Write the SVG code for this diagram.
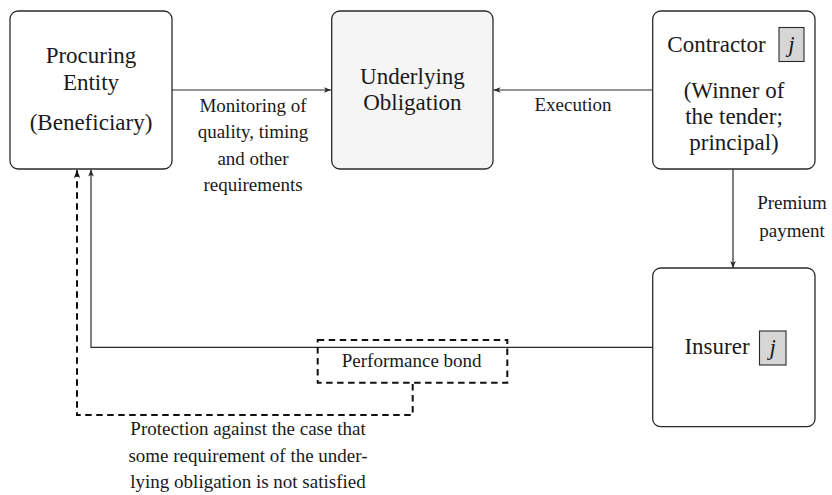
<svg xmlns="http://www.w3.org/2000/svg" width="832" height="495" viewBox="0 0 832 495">
  <style>
    .node { fill: #ffffff; stroke: #2a2a2a; stroke-width: 1.3; }
    .node.shaded { fill: #f5f5f5; }
    .tag { fill: #d6d6d6; stroke: #2a2a2a; stroke-width: 1.1; }
    .lbl { font-family: 'Liberation Serif', serif; fill: #1a1a1a; text-anchor: middle; }
    .big { font-size: 23px; }
    .small { font-size: 19px; }
    .edge { fill: none; stroke: #2a2a2a; stroke-width: 1.2; }
    .dash { fill: none; stroke: #111111; stroke-width: 2; stroke-dasharray: 6.5 4.5; }
  </style>
  <defs>
    <marker id="arrow" viewBox="0 0 10 8" refX="10" refY="4" markerWidth="7" markerHeight="6" markerUnits="userSpaceOnUse" orient="auto">
      <path d="M0,0 L10,4 L0,8 L2.5,4 Z" fill="#2a2a2a"/>
    </marker>
    <marker id="arrowBold" viewBox="0 0 10 8" refX="10" refY="4" markerWidth="8" markerHeight="7" markerUnits="userSpaceOnUse" orient="auto">
      <path d="M0,0 L10,4 L0,8 L2.5,4 Z" fill="#111111"/>
    </marker>
  </defs>

  <!-- procuring entity -->
  <g id="procuring-entity">
    <rect class="node" x="10" y="11" width="162" height="158" rx="8" ry="8"/>
    <text class="lbl big" x="91" y="63">Procuring</text>
    <text class="lbl big" x="91" y="90">Entity</text>
    <text class="lbl big" x="91" y="130">(Beneficiary)</text>
  </g>

  <!-- underlying obligation -->
  <g id="underlying-obligation">
    <rect class="node shaded" x="331.7" y="11" width="161.3" height="158" rx="8" ry="8"/>
    <text class="lbl big" x="412.4" y="84">Underlying</text>
    <text class="lbl big" x="412.4" y="110">Obligation</text>
  </g>

  <!-- contractor -->
  <g id="contractor">
    <rect class="node" x="652.7" y="11" width="162.3" height="158" rx="8" ry="8"/>
    <text class="lbl big" x="716.5" y="52">Contractor</text>
    <rect class="tag" x="779" y="27.5" width="25" height="34"/>
    <text class="lbl big" x="791.5" y="52" font-style="italic">j</text>
    <text class="lbl big" x="734" y="98">(Winner of</text>
    <text class="lbl big" x="734" y="124">the tender;</text>
    <text class="lbl big" x="734" y="150">principal)</text>
  </g>

  <!-- insurer -->
  <g id="insurer">
    <rect class="node" x="652.7" y="268" width="162.3" height="158.7" rx="8" ry="8"/>
    <text class="lbl big" x="717" y="354">Insurer</text>
    <rect class="tag" x="759.5" y="331" width="26.5" height="34"/>
    <text class="lbl big" x="772.7" y="355" font-style="italic">j</text>
  </g>

  <!-- connectors and their labels -->
  <g id="connectors">
    <path class="edge" d="M172,90 H331" marker-end="url(#arrow)"/>
    <path class="edge" d="M652.7,90 H493.5" marker-end="url(#arrow)"/>
    <path class="edge" d="M733,169 V268" marker-end="url(#arrow)"/>
    <path class="edge" d="M652.7,347.3 H91 V169.5" marker-end="url(#arrow)"/>
    <path class="dash" d="M412.7,384 V415 H77 V170" marker-end="url(#arrowBold)"/>
    <rect class="dash" x="317.7" y="340" width="189.6" height="42.7"/>

    <text class="lbl small" x="253" y="112">Monitoring of</text>
    <text class="lbl small" x="253" y="138">quality, timing</text>
    <text class="lbl small" x="253" y="165">and other</text>
    <text class="lbl small" x="253" y="191">requirements</text>

    <text class="lbl small" x="573" y="111">Execution</text>

    <text class="lbl small" x="792" y="209">Premium</text>
    <text class="lbl small" x="792" y="237">payment</text>

    <text class="lbl small" x="411.7" y="367">Performance bond</text>

    <text class="lbl small" x="248" y="435">Protection against the case that</text>
    <text class="lbl small" x="248" y="462">some requirement of the under-</text>
    <text class="lbl small" x="248" y="488">lying obligation is not satisfied</text>
  </g>
</svg>
